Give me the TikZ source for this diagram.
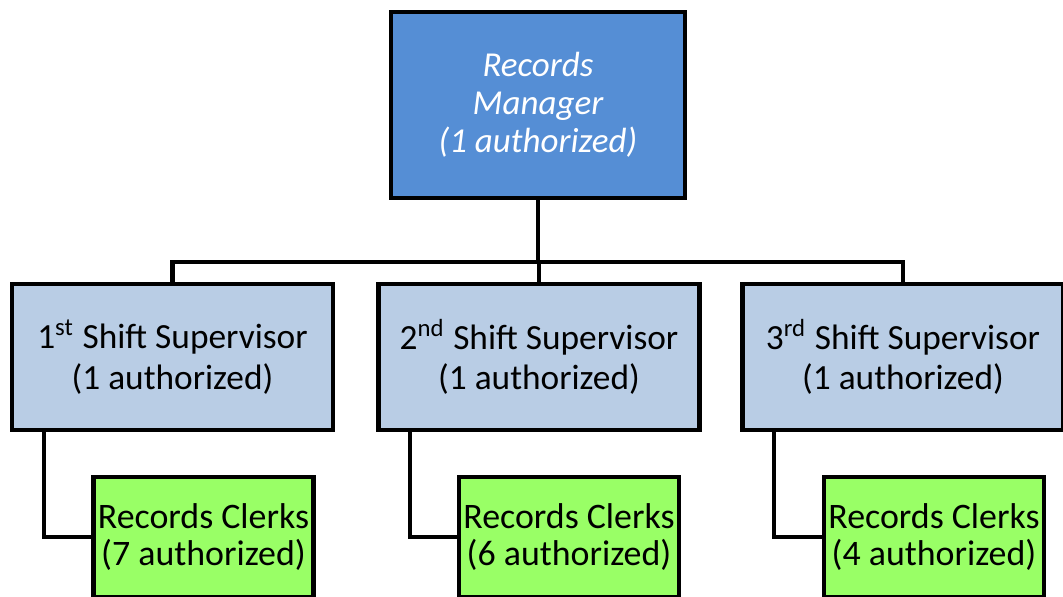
\documentclass[tikz,border=0pt]{standalone}
\usepackage{fontspec}
\setmainfont{Carlito}
\usepackage{tikz}
\usetikzlibrary{shapes}

\definecolor{managerblue}{HTML}{558ED5}
\definecolor{supblue}{HTML}{B9CDE5}
\definecolor{clerkgreen}{HTML}{99FF66}

\begin{document}
\begin{tikzpicture}[x=0.01cm,y=-0.01cm]
				\tikzset{box/.style={draw=black,line width=1.2pt,rectangle,align=center,inner sep=0pt}}
				\tikzset{manager/.style={box,fill=managerblue,text=white,minimum width=2.94cm,minimum height=1.86cm,font=\fontsize{9.95}{10.8}\selectfont\itshape}}
				\tikzset{supervisor/.style={box,fill=supblue,minimum width=3.21cm,minimum height=1.46cm,font=\fontsize{10.05}{11.6}\selectfont}}
				\tikzset{clerks/.style={box,fill=clerkgreen,minimum width=2.2cm,minimum height=1.2cm,font=\fontsize{10.2}{10.6}\selectfont}}
				\tikzset{wire/.style={draw=black,line width=1.2pt}}
				\useasboundingbox (0,0) rectangle (1063,596);
				\clip (0,0) rectangle (1063,596);
				\node[manager] (mgr) at (538,105) {Records\\Manager\\(1 authorized)};
				\node[supervisor] (sup1) at (172.5,357) {1\textsuperscript{st} Shift Supervisor\\(1 authorized)};
				\node[supervisor] (sup2) at (539,357) {2\textsuperscript{nd} Shift Supervisor\\(1 authorized)};
				\node[supervisor] (sup3) at (903,357) {3\textsuperscript{rd} Shift Supervisor\\(1 authorized)};
				\node[clerks] (clk1) at (203.5,537) {Records Clerks\\(7 authorized)};
				\node[clerks] (clk2) at (569,537) {Records Clerks\\(6 authorized)};
				\node[clerks] (clk3) at (934,537) {Records Clerks\\(4 authorized)};
				\foreach \i in {1,2,3} {
					\draw[wire] (sup\i.north) -- ++(0,-20) -| (mgr.south);
					\draw[wire] ([xshift=0.34cm]sup\i.south west) |- (clk\i.west);
				}
			\end{tikzpicture}
\end{document}
